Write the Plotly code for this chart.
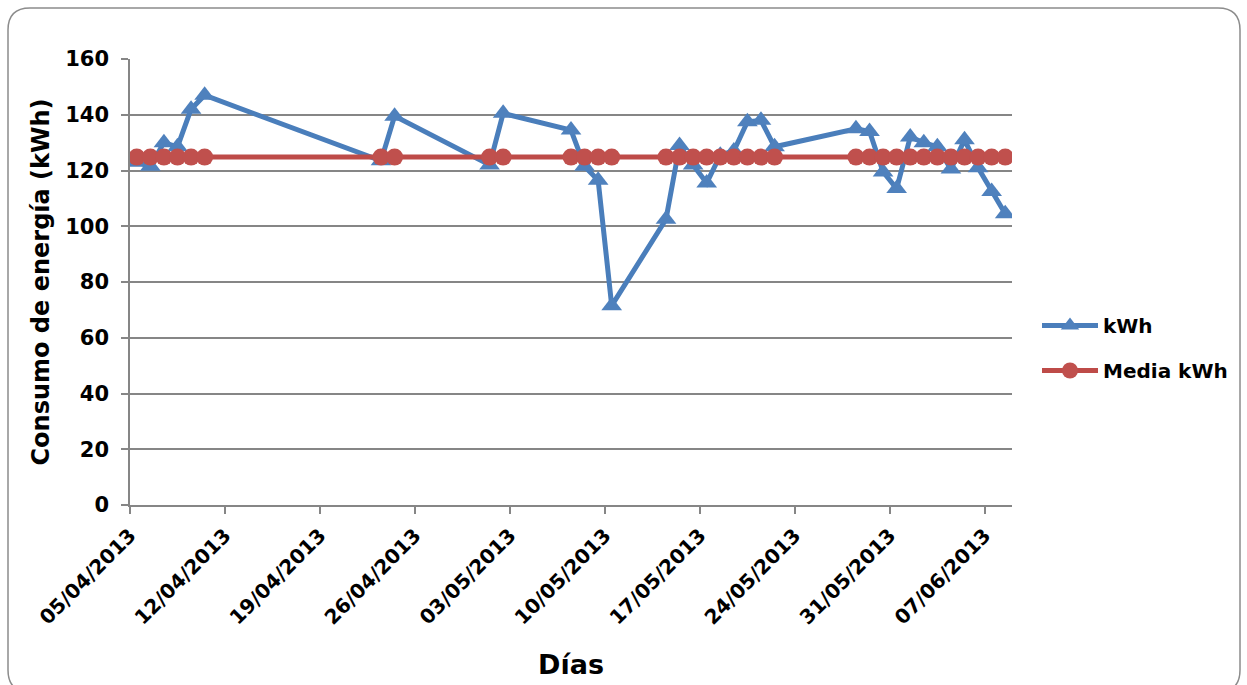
import pandas as pd
import plotly.graph_objects as go

dates = [
    "2013-04-05", "2013-04-06", "2013-04-07", "2013-04-08", "2013-04-09", "2013-04-10",
    "2013-04-23", "2013-04-24",
    "2013-05-01", "2013-05-02",
    "2013-05-07", "2013-05-08", "2013-05-09", "2013-05-10",
    "2013-05-14", "2013-05-15", "2013-05-16", "2013-05-17", "2013-05-18", "2013-05-19",
    "2013-05-20", "2013-05-21", "2013-05-22",
    "2013-05-28", "2013-05-29", "2013-05-30", "2013-05-31", "2013-06-01", "2013-06-02",
    "2013-06-03", "2013-06-04", "2013-06-05", "2013-06-06", "2013-06-07", "2013-06-08",
]
kwh = [
    123, 121.5, 130, 128.5, 142, 147,
    123.5, 139.5,
    122, 140.5,
    134.5, 121.5, 116.5, 71.5,
    102.5, 129, 122, 115.5, 125.5, 127, 137.5, 138, 128.5,
    135, 134, 119.5, 113.5, 132, 130, 128.5, 120.5, 131, 121, 112.5, 104.5,
]
media_kwh = [
    124.8, 124.8, 124.8, 124.8, 124.8, 124.8, 124.8, 124.8, 124.8, 124.8,
    124.8, 124.8, 124.8, 124.8, 124.8, 124.8, 124.8, 124.8, 124.8, 124.8,
    124.8, 124.8, 124.8, 124.8, 124.8, 124.8, 124.8, 124.8, 124.8, 124.8,
    124.8, 124.8, 124.8, 124.8, 124.8,
]
tick_dates = ["2013-04-05", "2013-04-12", "2013-04-19", "2013-04-26", "2013-05-03",
              "2013-05-10", "2013-05-17", "2013-05-24", "2013-05-31", "2013-06-07"]
tick_labels = ["05/04/2013", "12/04/2013", "19/04/2013", "26/04/2013", "03/05/2013",
               "10/05/2013", "17/05/2013", "24/05/2013", "31/05/2013", "07/06/2013"]
y_ticks = [0, 20, 40, 60, 80, 100, 120, 140, 160]

# Excel date axis "between tick marks": each day sits in the middle of its slot
x_pos = pd.to_datetime(dates) + pd.Timedelta(hours=12)

W, H = 1247, 685
L, R, T, B = 130, 1012, 59, 505
FONT = "DejaVu Sans, Arial, sans-serif"
GRID = "#868686"

fig = go.Figure()
fig.add_trace(go.Scatter(
    x=x_pos, y=kwh, name="kWh", mode="lines+markers", legendgroup="a",
    line=dict(color="#4A7EBB", width=5),
    marker=dict(symbol="triangle-up", size=18, color="#4F81BD",
                line=dict(width=0)),
))
fig.add_trace(go.Scatter(
    x=x_pos, y=media_kwh, name="Media kWh", mode="lines+markers", legendgroup="b",
    line=dict(color="#BE4B48", width=5),
    marker=dict(symbol="circle", size=17, color="#C0504D",
                line=dict(width=0)),
))


def px(x):
    return (x - L) / (R - L)


def py(y):
    return (B - y) / (B - T)


x0, x1, y0, y1, r = 8, 1240, 8, 692, 22
path = (
    f"M {px(x0 + r)},{py(y0)} L {px(x1 - r)},{py(y0)} "
    f"Q {px(x1)},{py(y0)} {px(x1)},{py(y0 + r)} "
    f"L {px(x1)},{py(y1 - r)} Q {px(x1)},{py(y1)} {px(x1 - r)},{py(y1)} "
    f"L {px(x0 + r)},{py(y1)} Q {px(x0)},{py(y1)} {px(x0)},{py(y1 - r)} "
    f"L {px(x0)},{py(y0 + r)} Q {px(x0)},{py(y0)} {px(x0 + r)},{py(y0)} Z"
)

fig.update_layout(
    width=W, height=H,
    margin=dict(l=L, r=W - R, t=T, b=H - B, pad=0, autoexpand=False),
    paper_bgcolor="white", plot_bgcolor="white",
    font=dict(family=FONT, size=20, color="black", weight="bold"),
    showlegend=True,
    legend=dict(
        x=px(1037), y=py(348), xanchor="left", yanchor="middle",
        font=dict(family=FONT, size=20, color="black", weight="bold"),
        itemwidth=56, traceorder="grouped", tracegroupgap=16,
        bgcolor="rgba(0,0,0,0)",
    ),
    shapes=[dict(type="path", path=path, xref="paper", yref="paper",
                 line=dict(color="#8C8C8C", width=1.5), layer="below")],
)
fig.update_xaxes(
    type="date", automargin=False,
    range=["2013-04-05", "2013-06-09"],
    tickvals=pd.to_datetime(tick_dates), ticktext=tick_labels,
    tickangle=-45,
    tickfont=dict(family=FONT, size=20, color="black", weight="bold"),
    ticks="outside", ticklen=7, tickcolor=GRID, tickwidth=1.5,
    ticklabelstandoff=2,
    showline=True, linecolor=GRID, linewidth=1.5,
    showgrid=False, zeroline=False,
    title=dict(text="Días", font=dict(family=FONT, size=27, color="black", weight="bold"),
               standoff=27),
)
fig.update_yaxes(
    range=[0, 160], tickvals=y_ticks, automargin=False,
    tickfont=dict(family=FONT, size=21, color="black", weight="bold"),
    ticks="outside", ticklen=7, tickcolor=GRID, tickwidth=1.5,
    ticklabelstandoff=8,
    showline=True, linecolor=GRID, linewidth=1.5,
    showgrid=True, gridcolor=GRID, gridwidth=1.5,
    zeroline=False,
    title=dict(text="Consumo de energía (kWh)",
               font=dict(family=FONT, size=24, color="black", weight="bold"),
               standoff=9),
)

fig.write_html("out.html")
